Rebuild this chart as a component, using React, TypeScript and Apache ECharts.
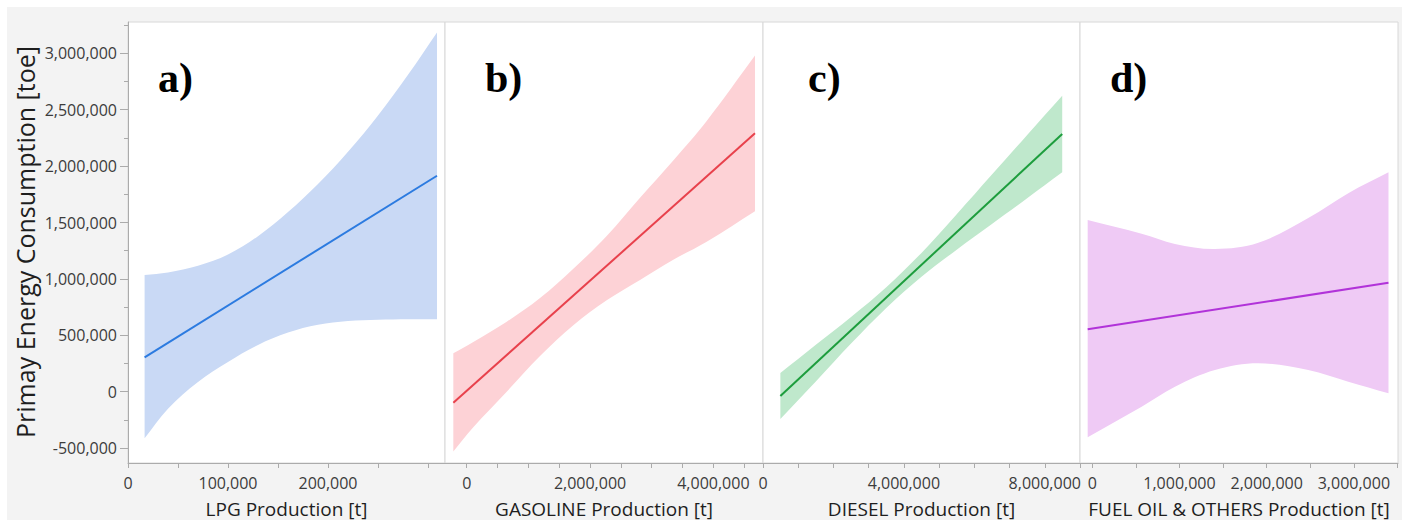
import React, { useEffect, useRef } from "react";
import * as echarts from "echarts";

// ---------- shared y axis ----------
const Y_MIN = -632000;
const Y_MAX = 3278000;
const yTickValues = [-500000, 0, 500000, 1000000, 1500000, 2000000, 2500000, 3000000];
const yMinorTickValues = [-250000, 250000, 750000, 1250000, 1750000, 2250000, 2750000, 3250000];
const yTitle = "Primay Energy Consumption [toe]";

// ---------- panel a) LPG ----------
const lpgX = [16600, 40000, 70000, 100000, 130000, 160000, 190000, 220000, 250000, 280000, 309000];
const lpgUpper = [1035000, 1058000, 1117000, 1217000, 1379000, 1593000, 1842000, 2128000, 2450000, 2810000, 3186000];
const lpgLower = [-413000, -150000, 86000, 264000, 414000, 524000, 593000, 627000, 638000, 642000, 642000];
const lpgFitX = [16600, 309000];
const lpgFitY = [305000, 1915000];
const lpgTicks = [0, 50000, 100000, 150000, 200000, 250000, 300000];
const lpgLabels = [0, 100000, 200000];

// ---------- panel b) GASOLINE ----------
const gasX = [-217000, 107000, 649000, 1189000, 1729000, 2270000, 2811000, 3350000, 3892000, 4675000];
const gasUpper = [340000, 440000, 620000, 830000, 1090000, 1380000, 1720000, 2050000, 2400000, 2980000];
const gasLower = [-530000, -315000, 0, 317000, 590000, 810000, 990000, 1170000, 1330000, 1600000];
const gasFitX = [-217000, 4675000];
const gasFitY = [-98000, 2291000];
const gasTicks = [0, 500000, 1000000, 1500000, 2000000, 2500000, 3000000, 3500000, 4000000, 4500000];
const gasLabels = [0, 2000000, 4000000];

// ---------- panel c) DIESEL ----------
const dieselX = [493000, 1500000, 2500000, 3500000, 4500000, 5500000, 6500000, 7500000, 8495000];
const dieselUpper = [166000, 417000, 663000, 927000, 1231000, 1573000, 1925000, 2277000, 2625000];
const dieselLower = [-242000, 91000, 427000, 743000, 1019000, 1259000, 1487000, 1715000, 1945000];
const dieselFitX = [493000, 8495000];
const dieselFitY = [-38000, 2285000];
const dieselTicks = [0, 1000000, 2000000, 3000000, 4000000, 5000000, 6000000, 7000000, 8000000, 9000000];
const dieselLabels = [0, 4000000, 8000000];

// ---------- panel d) FUEL OIL & OTHERS ----------
const fuelX = [-53000, 566000, 948000, 1407000, 1904000, 2477000, 2936000, 3397000];
const fuelUpper = [1522000, 1400000, 1310000, 1265000, 1320000, 1540000, 1760000, 1945000];
const fuelLower = [-404000, -133000, 44000, 192000, 252000, 192000, 89000, -14000];
const fuelFitX = [-53000, 3397000];
const fuelFitY = [553000, 966000];
const fuelTicks = [0, 500000, 1000000, 1500000, 2000000, 2500000, 3000000, 3500000];
const fuelLabels = [0, 1000000, 2000000, 3000000];

const panelTags = ["a)", "b)", "c)", "d)"];
const xNames = [
  "LPG Production [t]",
  "GASOLINE Production [t]",
  "DIESEL Production [t]",
  "FUEL OIL & OTHERS Production [t]",
];

const fmt = (v: number) => v.toLocaleString("en-US");

const FONT = "'Open Sans', 'Noto Sans', sans-serif";
const TICK_COLOR = "#3c3c3c";
const AXIS_COLOR = "#ababab";

export default function App() {
  const ref = useRef<HTMLDivElement>(null);

  useEffect(() => {
    document.body.style.margin = "0";
    if (!ref.current) return;
    const chart = echarts.init(ref.current, undefined, { renderer: "svg" });

    const panels = [
      { x: lpgX, up: lpgUpper, lo: lpgLower, fx: lpgFitX, fy: lpgFitY, min: 0, max: 317000, ticks: lpgTicks, labels: lpgLabels, left: 128, width: 317, band: "#c9d9f5", line: "#2c7be0", tagX: 158 },
      { x: gasX, up: gasUpper, lo: gasLower, fx: gasFitX, fy: gasFitY, min: -352000, max: 4805000, ticks: gasTicks, labels: gasLabels, left: 445, width: 318, band: "#fdd2d6", line: "#e8414c", tagX: 485 },
      { x: dieselX, up: dieselUpper, lo: dieselLower, fx: dieselFitX, fy: dieselFitY, min: 0, max: 9000000, ticks: dieselTicks, labels: dieselLabels, left: 763, width: 317, band: "#bfe8cc", line: "#1d9d3d", tagX: 808 },
      { x: fuelX, up: fuelUpper, lo: fuelLower, fx: fuelFitX, fy: fuelFitY, min: -141000, max: 3506000, ticks: fuelTicks, labels: fuelLabels, left: 1080, width: 318, band: "#efcaf5", line: "#b133d9", tagX: 1110 },
    ];

    const grid = panels.map((p) => ({
      left: p.left,
      top: 22,
      width: p.width,
      height: 441,
      containLabel: false,
      outerBoundsMode: "none",
      show: true,
      backgroundColor: "#ffffff",
      borderColor: "#d8d8d8",
      borderWidth: 1,
    }));

    const xAxis = panels.map((p, i) => ({
      type: "value",
      gridIndex: i,
      min: p.min,
      max: p.max,
      z: 5,
      name: xNames[i],
      nameLocation: "middle",
      nameGap: 36,
      nameTextStyle: { fontFamily: FONT, fontSize: 19, lineHeight: 19, color: "#1e1e1e" },
      axisLine: { show: true, onZero: false, lineStyle: { color: AXIS_COLOR, width: 1 } },
      axisTick: { show: true, customValues: p.ticks, length: 5, lineStyle: { color: AXIS_COLOR } },
      axisLabel: {
        customValues: p.labels,
        formatter: (v: number) => fmt(v),
        fontFamily: FONT,
        fontSize: 16,
        color: TICK_COLOR,
        margin: 12,
      },
      splitLine: { show: false },
    }));

    const yAxis: any[] = panels.map((p, i) => ({
      type: "value",
      gridIndex: i,
      min: Y_MIN,
      max: Y_MAX,
      z: 5,
      position: "left",
      show: i === 0,
      axisLine: { show: true, onZero: false, lineStyle: { color: AXIS_COLOR, width: 1 } },
      axisTick: { show: true, customValues: yTickValues, length: 8, lineStyle: { color: AXIS_COLOR } },
      axisLabel: {
        customValues: yTickValues,
        formatter: (v: number) => fmt(v),
        fontFamily: FONT,
        fontSize: 16,
        color: TICK_COLOR,
        margin: 11,
      },
      splitLine: { show: false },
    }));
    yAxis.push({
      type: "value",
      gridIndex: 0,
      min: Y_MIN,
      max: Y_MAX,
      position: "left",
      offset: 0,
      z: 5,
      axisLine: { show: false, onZero: false },
      axisTick: { show: true, customValues: yMinorTickValues, length: 4, lineStyle: { color: AXIS_COLOR } },
      axisLabel: { show: false },
      splitLine: { show: false },
    });

    const series: any[] = [];
    panels.forEach((p, i) => {
      // confidence band: polygon through the upper edge (left → right) and the lower edge (right → left);
      // corner points are repeated so the smoothing keeps the vertical end edges straight.
      series.push({
        type: "custom",
        xAxisIndex: i,
        yAxisIndex: i,
        data: [[p.x[0], p.up[0]]],
        silent: true,
        z: 2,
        renderItem: (_params: any, api: any) => {
          const n = p.x.length;
          const top = p.x.map((v, k) => api.coord([v, p.up[k]]));
          const bot = p.x.map((v, k) => api.coord([v, p.lo[k]])).reverse();
          const pts = [top[0], ...top, top[n - 1], bot[0], ...bot, bot[n - 1]];
          return {
            type: "polygon",
            shape: { points: pts, smooth: 0.35 },
            style: { fill: p.band, stroke: null },
          };
        },
      });
      series.push({
        type: "line",
        xAxisIndex: i,
        yAxisIndex: i,
        data: p.fx.map((v, k) => [v, p.fy[k]]),
        symbol: "none",
        silent: true,
        z: 3,
        lineStyle: { width: 2, color: p.line },
      });
    });

    const graphic: any[] = [
      { type: "rect", shape: { x: 0, y: 0, width: 1402, height: 7 }, style: { fill: "#ffffff" }, silent: true },
      { type: "rect", shape: { x: 0, y: 0, width: 7, height: 520 }, style: { fill: "#ffffff" }, silent: true },
      {
        type: "text",
        x: 25,
        y: 242,
        rotation: Math.PI / 2,
        style: {
          text: yTitle,
          fontFamily: FONT,
          fontSize: 25,
          fill: "#1e1e1e",
          align: "center",
          verticalAlign: "middle",
        },
        silent: true,
      },
    ];
    panels.forEach((p, i) => {
      graphic.push({
        type: "text",
        x: p.tagX,
        y: 78,
        z: 10,
        style: {
          text: panelTags[i],
          fontFamily: "'Liberation Serif', 'DejaVu Serif', serif",
          fontWeight: "bold",
          fontSize: 42,
          fill: "#000000",
          align: "left",
          verticalAlign: "middle",
        },
        silent: true,
      });
    });

    chart.setOption({
      animation: false,
      backgroundColor: "#f3f3f3",
      grid,
      xAxis,
      yAxis,
      series,
      graphic,
    });

    return () => chart.dispose();
  }, []);

  return <div ref={ref} style={{ width: 1402, height: 520 }} />;
}
